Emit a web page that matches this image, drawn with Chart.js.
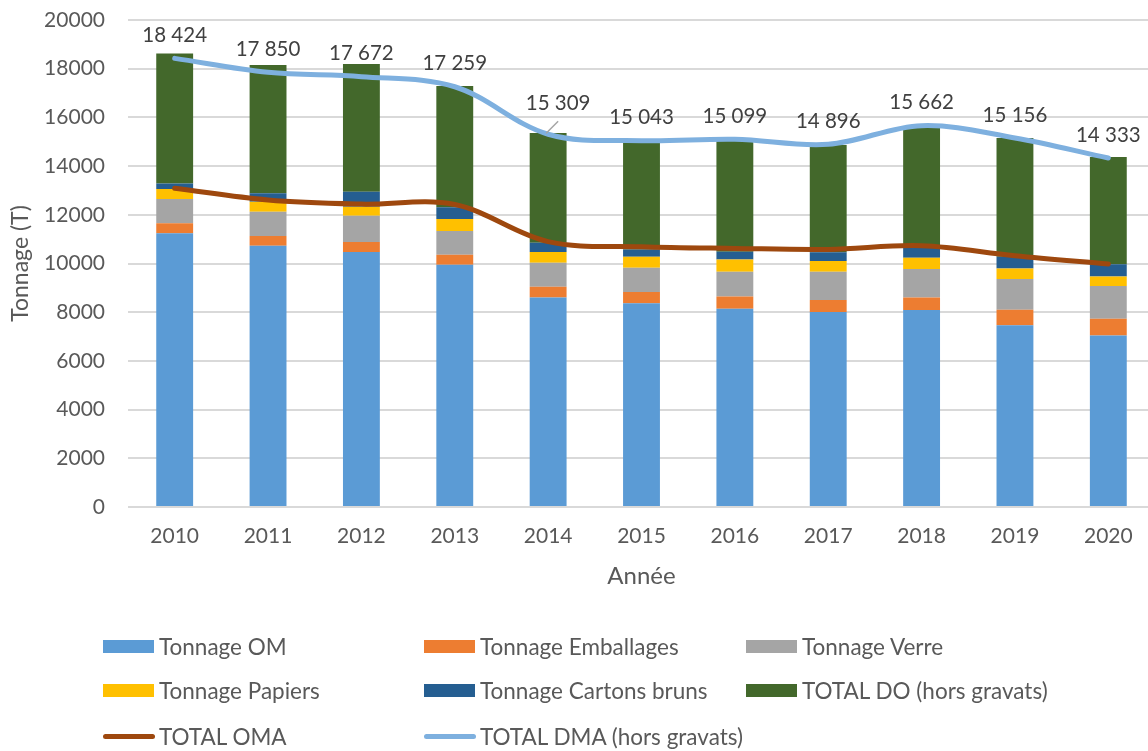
<!DOCTYPE html>
<html lang="fr">
<head>
<meta charset="utf-8">
<title>Tonnages</title>
<script src="https://cdn.jsdelivr.net/npm/chart.js@4/dist/chart.umd.min.js"></script>
<style>
  html, body { margin: 0; padding: 0; background: #fff; overflow: hidden; }
  #wrap { position: relative; width: 1148px; height: 751px; overflow: hidden; }
  #wrap canvas { position: absolute; left: 0; top: 0; }
  .lg { position: absolute; font-family: Lato, sans-serif; font-size: 22.5px; color: #595959; white-space: nowrap; line-height: 26px; }
  .lg .sw { position: absolute; left: 0; top: 6px; width: 51px; height: 13px; }
  .lg .ln { position: absolute; left: 0; top: 10px; width: 52px; height: 5px; border-radius: 3px; }
  .lg span.t { position: absolute; left: 56px; top: 0; }
</style>
</head>
<body>
<div id="wrap">
  <canvas id="chart" width="1160" height="751" style="width:1160px;height:751px"></canvas>
  <div id="legend"></div>
</div>
<script>
// ----------------------------
// Data
// ----------------------------
var years = ['2010', '2011', '2012', '2013', '2014', '2015', '2016', '2017', '2018', '2019', '2020'];

var tonnageOM       = [11240, 10730, 10470, 9950, 8600, 8370, 8140, 8010, 8090, 7460, 7040];
var tonnageEmball   = [410, 400, 410, 410, 450, 460, 500, 490, 510, 640, 690];
var tonnageVerre    = [1000, 1000, 1080, 970, 980, 1000, 1020, 1160, 1170, 1260, 1350];
var tonnagePapiers  = [410, 410, 370, 500, 440, 450, 500, 440, 470, 430, 390];
var tonnageCartons  = [230, 340, 620, 480, 380, 300, 320, 360, 450, 490, 500];
var totalDO         = [5330, 5270, 5240, 4980, 4510, 4450, 4570, 4410, 4960, 4870, 4400];

var totalOMA = [13090, 12610, 12440, 12420, 10900, 10690, 10620, 10580, 10730, 10320, 9980];
var totalDMA = [18424, 17850, 17672, 17259, 15309, 15043, 15099, 14896, 15662, 15156, 14333];

var yTicks = { min: 0, max: 20000, step: 2000 };

var FONT = 'Lato, sans-serif';
var TEXT = '#595959';

function fmtSpace(v) {
    return String(v).replace(/\B(?=(\d{3})+(?!\d))/g, ' ');
}

function barSet(label, data, color) {
    return { type: 'bar', label: label, data: data, backgroundColor: color, stack: 'bars', order: 3,
             barPercentage: 0.395, categoryPercentage: 1.0 };
}

function lineSet(label, data, color, stack) {
    return { type: 'line', label: label, data: data, borderColor: color, backgroundColor: color,
             borderWidth: 5, pointRadius: 0, tension: 0.35, stack: stack, order: 1,
             borderCapStyle: 'round', fill: false };
}

var datasets = [
    barSet('Tonnage OM', tonnageOM, '#5B9BD5'),
    barSet('Tonnage Emballages', tonnageEmball, '#ED7D31'),
    barSet('Tonnage Verre', tonnageVerre, '#A5A5A5'),
    barSet('Tonnage Papiers', tonnagePapiers, '#FFC000'),
    barSet('Tonnage Cartons bruns', tonnageCartons, '#255E91'),
    barSet('TOTAL DO (hors gravats)', totalDO, '#43682B'),
    lineSet('TOTAL OMA', totalOMA, '#9E480E', 'oma'),
    lineSet('TOTAL DMA (hors gravats)', totalDMA, '#7EB0DF', 'dma')
];
datasets[7].order = 0;

// ----------------------------
// Value labels on the DMA line
// (the 2014 one is pushed aside with a leader line, like Excel did)
// ----------------------------
var dmaLabels = {
    id: 'dmaLabels',
    afterDatasetsDraw: function (chart) {
        var meta = chart.getDatasetMeta(7);
        var ctx = chart.ctx;
        ctx.save();
        ctx.font = '20.5px ' + FONT;
        ctx.textAlign = 'center';
        ctx.textBaseline = 'middle';
        meta.data.forEach(function (pt, i) {
            var dx = 0, dy = -23;
            if (years[i] === '2014') {
                dx = 10; dy = -31;
                ctx.strokeStyle = '#A6A6A6';
                ctx.lineWidth = 1.5;
                ctx.beginPath();
                ctx.moveTo(pt.x - 2, pt.y - 1);
                ctx.lineTo(pt.x + 10, pt.y - 13);
                ctx.stroke();
            }
            ctx.fillStyle = '#404040';
            ctx.fillText(fmtSpace(totalDMA[i]), pt.x + dx, pt.y + dy);
        });
        ctx.restore();
    }
};

var chart = new Chart(document.getElementById('chart').getContext('2d'), {
    data: { labels: years, datasets: datasets },
    options: {
        responsive: false,
        animation: false,
        layout: { padding: { top: 20, right: 5, left: 0, bottom: 160 } },
        plugins: { legend: { display: false }, tooltip: { enabled: false } },
        scales: {
            x: {
                stacked: true,
                afterFit: function (scale) { scale.height = 84; },
                grid: { display: false, drawTicks: false },
                border: { display: false },
                ticks: { color: TEXT, font: { family: FONT, size: 21 }, padding: 17, maxRotation: 0 },
                title: { display: true, text: 'Année', color: TEXT, font: { family: FONT, size: 24 },
                         padding: { top: 13, bottom: 0 } }
            },
            y: {
                stacked: true,
                min: yTicks.min,
                max: yTicks.max,
                afterFit: function (scale) {
                    scale.width = 128;
                    scale.paddingTop = 0;
                    scale.paddingBottom = 0;
                },
                grid: { color: '#D9D9D9', lineWidth: 2, drawTicks: false },
                border: { display: false },
                ticks: { stepSize: yTicks.step, color: TEXT, font: { family: FONT, size: 21 }, padding: 23,
                         callback: function (v) { return String(v); } },
                title: { display: true, text: 'Tonnage (T)', color: TEXT, font: { family: FONT, size: 23 },
                         padding: { top: 7, bottom: 0 } }
            }
        }
    },
    plugins: [dmaLabels]
});

// ----------------------------
// Legend (3 columns, built from the datasets)
// ----------------------------
var legendCols = [103, 424, 746];
var legendRows = [634, 678, 724];
var legendEl = document.getElementById('legend');
datasets.forEach(function (ds, i) {
    var item = document.createElement('div');
    item.className = 'lg';
    item.style.left = legendCols[i % 3] + 'px';
    item.style.top = legendRows[Math.floor(i / 3)] + 'px';
    var mark = document.createElement('div');
    if (ds.type === 'line') {
        mark.className = 'ln';
        mark.style.background = ds.borderColor;
    } else {
        mark.className = 'sw';
        mark.style.background = ds.backgroundColor;
    }
    var txt = document.createElement('span');
    txt.className = 't';
    txt.textContent = ds.label;
    item.appendChild(mark);
    item.appendChild(txt);
    legendEl.appendChild(item);
});
</script>
</body>
</html>
